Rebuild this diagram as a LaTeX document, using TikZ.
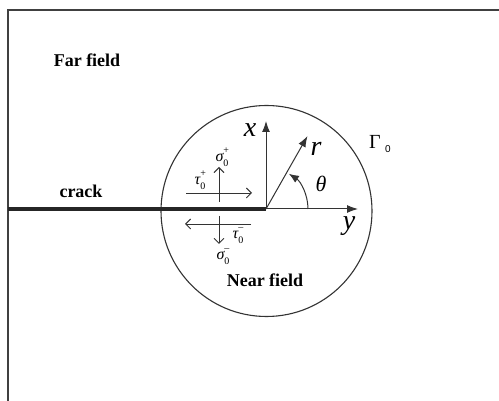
\documentclass[tikz,border=0pt]{standalone}
\usepackage{fontspec}
\setmainfont{Liberation Serif}
\newfontfamily\sansf{Liberation Sans}
\usetikzlibrary{arrows.meta}
\newcommand{\supsub}[2]{\makebox[0pt][l]{\raisebox{0.5em}{\fontsize{10}{10}\selectfont\upshape #1}}\raisebox{-0.3em}{\fontsize{10}{10}\selectfont\upshape #2}}
\begin{document}
\begin{tikzpicture}[x=1pt,y=-1pt,
  lbl/.style={inner sep=0pt,anchor=center},
  boldlbl/.style={lbl,font=\fontsize{18}{20}\selectfont\bfseries},
  axislbl/.style={lbl,font=\fontsize{28}{30}\selectfont\itshape},
  stresslbl/.style={lbl,font=\fontsize{16}{17}\selectfont\itshape},
  axisline/.style={draw=black!80,line width=1pt,-{Latex[length=11pt,width=8pt]}},
  stressarrow/.style={draw=black!80,line width=0.9pt,-{Straight Barb[length=5pt,width=10pt]}}]
\useasboundingbox (0,0) rectangle (499,401);
\fill[white] (0,0) rectangle (499,401);
% frame
\draw[black!75,line width=1.6pt] (8,401) -- (8,10) -- (499,10);
% circle
\coordinate (C) at (266.5,211);
\draw[black!80,line width=1.1pt] (C) circle[radius=105.5];
% crack
\coordinate (O) at (266,209);
\coordinate (CL) at (8,209);
\draw[black!85,line width=4.2pt] (CL) -- (O);
% axes
\coordinate (Xt) at (266,121);
\coordinate (Yt) at (358,209);
\coordinate (Rt) at (307.5,136);
\draw[axisline] (O) -- (Xt);
\draw[axisline] (O) -- (Yt);
\draw[axisline] (O) -- (Rt);
% theta arc
\draw[black!80,line width=1pt,-{Latex[length=10pt,width=8pt]}] (O) ++(42,0) arc[start angle=0,end angle=-57,radius=42];
% labels
\node[boldlbl] (far) at (87,60) {Far field};
\node[boldlbl] (crk) at (81,191) {crack};
\node[boldlbl] (near) at (265,280) {Near field};
\node[axislbl] (lx) at (250,130) {x};
\node[axislbl] (lr) at (316,149) {r};
\node[axislbl] (ly) at (349,226) {y};
\node[lbl,font=\fontsize{22}{23}\selectfont\itshape] (lt) at (321,184) {θ};
\node[lbl,font=\fontsize{20}{21}\selectfont] (lg) at (375,142) {Γ};
\node[lbl,font=\fontsize{10}{11}\selectfont\sansf] (lg0) at (388,149) {0};
% stress crosses
\coordinate (U1) at (219,202); \coordinate (U2) at (219,167);
\coordinate (H1) at (186,193); \coordinate (H2) at (252,193);
\draw[stressarrow] (U1) -- (U2);
\draw[stressarrow] (H1) -- (H2);
\coordinate (L1) at (251,224); \coordinate (L2) at (185,224);
\coordinate (D1) at (219,216); \coordinate (D2) at (219,244);
\draw[stressarrow] (L1) -- (L2);
\draw[stressarrow] (D1) -- (D2);
\node[stresslbl] (sp) at (222,157) {σ\supsub{+}{0}};
\node[stresslbl] (tp) at (200,180) {τ\supsub{+}{0}};
\node[stresslbl] (tm) at (238,236) {τ\supsub{–}{0}};
\node[stresslbl] (sm) at (223,257) {σ\supsub{–}{0}};
\end{tikzpicture}
\end{document}
